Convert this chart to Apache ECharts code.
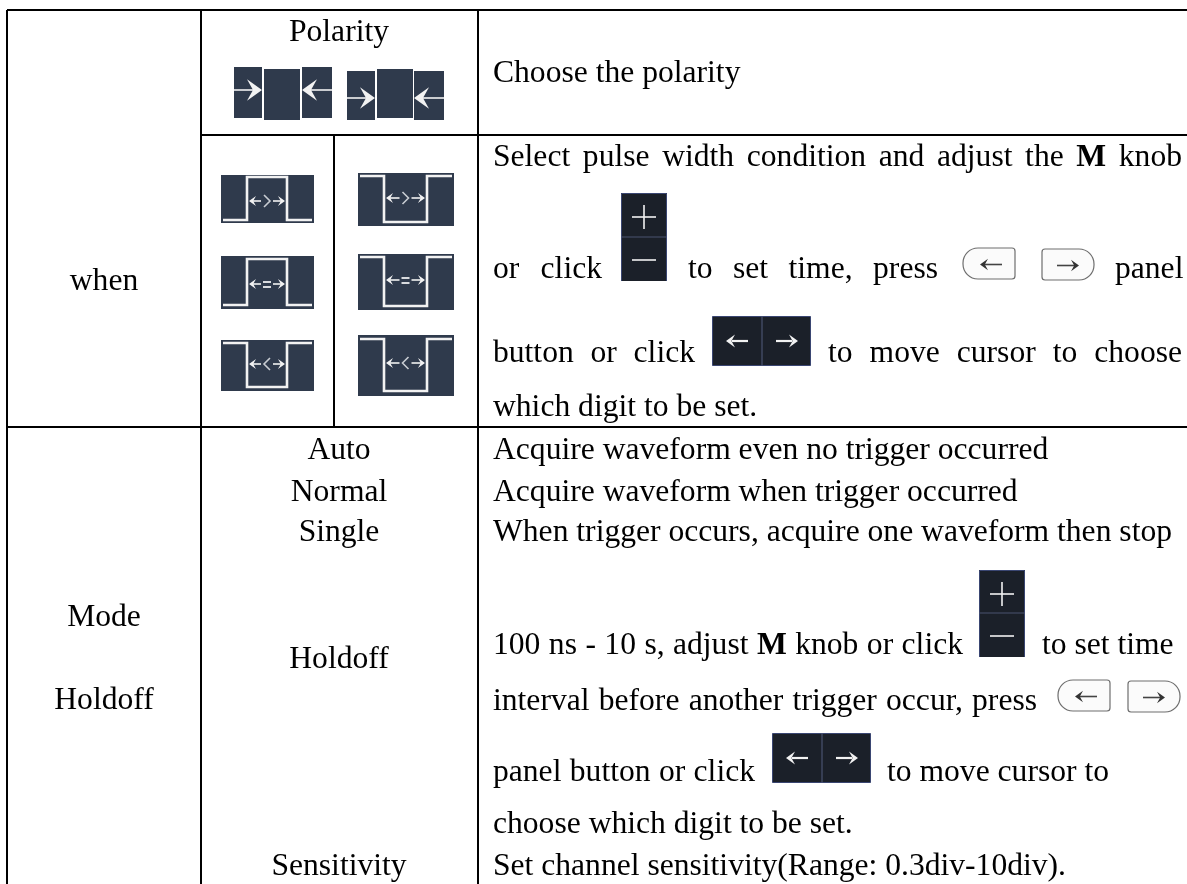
<!DOCTYPE html>
<html><head><meta charset="utf-8">
<style>html,body{margin:0;padding:0;background:#fff}#c{width:1187px;height:884px}</style>
<script src="https://cdn.jsdelivr.net/npm/echarts@6/dist/echarts.min.js"></script>
</head><body><div id="c"></div>
<script>
// ---- table content ----
const rowHeaders = ['when', 'Mode', 'Holdoff'];
const settingNames = ['Polarity', 'Auto', 'Normal', 'Single', 'Holdoff', 'Sensitivity'];
const polarityDescription = ['Choose the polarity'];
const whenDescription = [
  'Select pulse width condition and adjust the |M| knob',
  'or click', 'to set time, press', 'panel',
  'button or click', 'to move cursor to choose',
  'which digit to be set.'
];
const modeDescriptions = [
  'Acquire waveform even no trigger occurred',
  'Acquire waveform when trigger occurred',
  'When trigger occurs, acquire one waveform then stop'
];
const holdoffDescription = [
  '100 ns - 10 s, adjust |M| knob or click', 'to set time',
  'interval before another trigger occur, press',
  'panel button or click', 'to move cursor to',
  'choose which digit to be set.'
];
const sensitivityDescription = ['Set channel sensitivity(Range: 0.3div-10div).'];

// ---- drawing ----
const FS = 31.6, FF = '"Liberation Serif","Times New Roman",serif';
const ICON = '#2f3a4c', BTN = '#1b2029', BTNB = '#3a4672', WHITE = '#f2f2f2';
const g = [];
const cvs = document.createElement('canvas').getContext('2d');
const fontOf = b => (b ? 'bold ' : '') + FS + 'px ' + FF;
const widthOf = (t, b) => { cvs.font = fontOf(b); return cvs.measureText(t).width; };
const fromBase = b => b - 0.33 * FS;

function text(t, x, base, align, bold) {
  g.push({ type: 'text', z: 5, style: { text: t, x, y: fromBase(base), font: fontOf(bold), fill: '#000', align: align || 'left', verticalAlign: 'middle' } });
}
const center = (t, x, base) => text(t, x, base, 'center');
// one line stretched from x0 to x1; "|" marks a bold run
function justified(t, x0, x1, base) {
  const words = [];
  t.split('|').forEach((part, i) => part.trim().split(/\s+/).forEach(w => w && words.push({ w, b: i % 2 === 1 })));
  const total = words.reduce((s, o) => s + widthOf(o.w, o.b), 0);
  const gap = words.length > 1 ? (x1 - x0 - total) / (words.length - 1) : 0;
  let x = x0;
  words.forEach(o => { text(o.w, x, base, 'left', o.b); x += widthOf(o.w, o.b) + gap; });
}
function rect(x, y, w, h, fill, stroke, lw) {
  g.push({ type: 'rect', z: 2, shape: { x, y, width: w, height: h }, style: { fill, stroke: stroke || null, lineWidth: lw || 0 } });
}
function line(pts, color, lw, z) {
  g.push({ type: 'polyline', z: z || 3, shape: { points: pts }, style: { stroke: color, fill: null, lineWidth: lw, lineJoin: 'miter' } });
}
function head(x, y, dir, s, color) { // filled arrow head with tip at x,y
  g.push({ type: 'polygon', z: 4, shape: { points: [[x, y], [x - dir * s, y - s * 0.72], [x - dir * s * 0.6, y], [x - dir * s, y + s * 0.72]] }, style: { fill: color } });
}
// table rules
[[[7, 10], [1187, 10]], [[201, 135], [1187, 135]], [[7, 427], [1187, 427]],
 [[7, 10], [7, 884]], [[201, 10], [201, 884]], [[478, 10], [478, 884]],
 [[334, 135], [334, 427]]].forEach(p => line(p, '#000', 2, 1));

// polarity icons
function polarity(bx, lineY, outer, mid) {
  rect(bx[0], outer[0], bx[1] - bx[0], outer[1] - outer[0], ICON);
  rect(bx[2], mid[0], bx[3] - bx[2], mid[1] - mid[0], ICON);
  rect(bx[4], outer[0], bx[5] - bx[4], outer[1] - outer[0], ICON);
  line([[bx[0], lineY], [bx[1] - 6, lineY]], WHITE, 1.6);
  line([[bx[5], lineY], [bx[4] + 6, lineY]], WHITE, 1.6);
  head(bx[1], lineY, 1, 15, WHITE);
  head(bx[4], lineY, -1, 15, WHITE);
}
polarity([234, 262, 264, 300, 302, 332], 90, [67, 118], [69, 120]);
polarity([347, 375, 377, 413, 414, 444], 98, [71, 120], [69, 118]);

// pulse icons: [x0,x1,y0,y1], a=left-right level, b=middle level
function pulse(x0, x1, y0, y1, a, b, ax, mark, xs) {
  rect(x0, y0, x1 - x0, y1 - y0, ICON);
  line([[xs[0], a], [xs[1], a], [xs[1], b], [xs[2], b], [xs[2], a], [xs[3], a]], WHITE, 2.6);
  const l = xs[1] + 2, r = xs[2] - 2, mx = (l + r) / 2;
  line([[l + 2, ax], [mx - 6, ax]], WHITE, 1.6);
  line([[mx + 6, ax], [r - 2, ax]], WHITE, 1.6);
  head(l, ax, -1, 7, WHITE);
  head(r, ax, 1, 7, WHITE);
  if (mark === '>') line([[mx - 3, ax - 6], [mx + 3, ax], [mx - 3, ax + 6]], '#c8ccd2', 1.6);
  if (mark === '<') line([[mx + 3, ax - 6], [mx - 3, ax], [mx + 3, ax + 6]], '#c8ccd2', 1.6);
  if (mark === '=') { rect(mx - 4, ax - 3, 8, 2, '#d8dade'); rect(mx - 4, ax + 2, 8, 2, '#d8dade'); g[g.length - 1].z = 4; g[g.length - 2].z = 4; }
}
const ax = [223, 247, 287, 312], bx = [360, 384, 427, 452];
pulse(221, 314, 175, 223, 220, 177, 201, '>', ax);
pulse(358, 454, 173, 226, 176, 222, 198, '>', bx);
pulse(221, 314, 256, 309, 305, 259, 284, '=', ax);
pulse(358, 454, 254, 310, 257, 306, 280, '=', bx);
pulse(221, 314, 340, 391, 343, 387, 364, '<', ax);
pulse(358, 454, 335, 396, 339, 391, 363, '<', bx);

// dark buttons
function plusMinus(x, y0, y1, ydiv) {
  rect(x, y0, 46, y1 - y0, BTN);
  line([[x + .5, y1], [x + .5, y0 + .5], [x + 45.5, y0 + .5], [x + 45.5, y1]], BTNB, 1);
  line([[x, ydiv], [x + 46, ydiv]], '#4a5270', 1.2);
  const cx = x + 23, py = y0 + 24, my = ydiv + 23;
  line([[cx - 12, py], [cx + 12, py]], WHITE, 1.6);
  line([[cx, py - 12], [cx, py + 12]], WHITE, 1.6);
  line([[cx - 12, my], [cx + 12, my]], WHITE, 1.6);
}
function arrows(x, y0) {
  rect(x + .5, y0 + .5, 98, 49, BTN, BTNB, 1);
  line([[x + 50, y0], [x + 50, y0 + 50]], '#4a5270', 1.2);
  const y = y0 + 25;
  line([[x + 20, y], [x + 36, y]], WHITE, 2.2);
  head(x + 14, y, -1, 9, WHITE);
  line([[x + 64, y], [x + 80, y]], WHITE, 2.2);
  head(x + 86, y, 1, 9, WHITE);
}
// rounded panel keys
function panelKey(x, y, dir) {
  const w = 52, h = 31, rr = dir < 0 ? [15, 3, 3, 15] : [3, 15, 15, 3];
  g.push({ type: 'rect', z: 2, shape: { x, y, width: w, height: h, r: rr }, style: { fill: '#fbfbfb', stroke: '#6e6e6e', lineWidth: 1.2 } });
  const m = y + h / 2 + 1;
  const tip = dir < 0 ? x + 17 : x + w - 15;
  line([[tip + (dir < 0 ? 4 : -4), m], [tip + (dir < 0 ? 22 : -22), m]], '#444', 1.6);
  head(tip, m, dir, 8, '#333');
}
plusMinus(621, 193, 281, 237);
arrows(712, 316);
panelKey(963, 248, -1);
panelKey(1042, 249, 1);
plusMinus(979, 570, 657, 613);
arrows(772, 733);
panelKey(1058, 680, -1);
panelKey(1128, 681, 1);

// left columns
center(rowHeaders[0], 104, 292);
center(rowHeaders[1], 104, 628);
center(rowHeaders[2], 104, 711);
center(settingNames[0], 339, 43);
center(settingNames[1], 339, 461);
center(settingNames[2], 339, 503);
center(settingNames[3], 339, 543);
center(settingNames[4], 339, 670);
center(settingNames[5], 339, 877);

// description column
const L = 493, R = 1182;
text(polarityDescription[0], L, 84);
justified(whenDescription[0], L, R, 168);
justified(whenDescription[1], L, 602, 280);
justified(whenDescription[2], 688, 938, 280);
text(whenDescription[3], 1115, 280);
justified(whenDescription[4], L, 695, 364);
justified(whenDescription[5], 828, R, 364);
text(whenDescription[6], L, 418);
modeDescriptions.forEach((t, i) => text(t, L, [461, 503, 543][i]));
justified(holdoffDescription[0], L, 963, 656);
text(holdoffDescription[1], 1042, 656);
justified(holdoffDescription[2], L, 1037, 712);
justified(holdoffDescription[3], L, 755, 783);
text(holdoffDescription[4], 887, 783);
text(holdoffDescription[5], L, 835);
text(sensitivityDescription[0], L, 877);

const chart = echarts.init(document.getElementById('c'), null, { renderer: 'canvas', width: 1187, height: 884 });
chart.setOption({ backgroundColor: '#fff', animation: false, graphic: { elements: g } });
</script></body></html>
